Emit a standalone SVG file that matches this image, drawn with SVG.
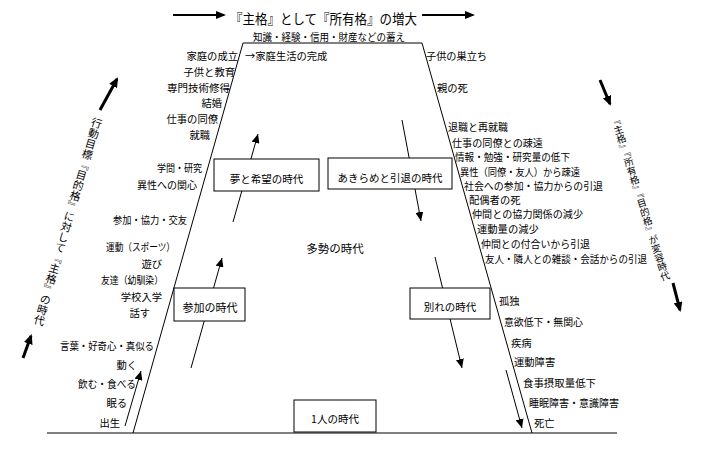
<svg xmlns="http://www.w3.org/2000/svg" width="711" height="449" viewBox="0 0 711 449">
<style>
text{font-family:"Noto Sans CJK JP","Noto Sans",sans-serif;fill:#000}
.lb{font-size:10.3px}
.l{text-anchor:end}
.bx{fill:#fff;stroke:#000;stroke-width:1}
.bt{font-size:10.5px;text-anchor:middle}
.ln{stroke:#000;stroke-width:1;fill:none}
.ar{stroke:#000;stroke-width:1;fill:none;marker-end:url(#ah)}
.ak{stroke:#000;stroke-width:3;fill:none;marker-end:url(#ahk)}
.at{stroke:#000;stroke-width:2;fill:none;marker-end:url(#aht)}
.vt{writing-mode:vertical-rl}
</style>
<defs>
<marker id="ah" markerUnits="userSpaceOnUse" markerWidth="10" markerHeight="8" refX="9" refY="4" orient="auto"><path d="M0,0 L9,4 L0,8 z" fill="#000"/></marker>
<marker id="ahk" markerUnits="userSpaceOnUse" markerWidth="10" markerHeight="9" refX="8" refY="4.5" orient="auto"><path d="M0,0 L10,4.5 L0,9 z" fill="#000"/></marker>
<marker id="aht" markerUnits="userSpaceOnUse" markerWidth="10" markerHeight="8" refX="8" refY="4" orient="auto"><path d="M0,0 L10,4 L0,8 z" fill="#000"/></marker>
</defs>
<rect width="711" height="449" fill="#fff"/>

<g id="frame">
<path class="ln" d="M133,433 L243,43 L422,43 L532,433"/>
<line x1="47" y1="433" x2="617" y2="433" stroke="#000" stroke-width="1.2"/>
</g>

<g id="connectors">
<line class="at" x1="173" y1="15" x2="224" y2="15"/>
<line class="at" x1="422" y1="15" x2="473" y2="15"/>
<line class="ak" x1="100" y1="110" x2="117" y2="79"/>
<line class="ak" x1="23" y1="358" x2="31" y2="336"/>
<line class="ak" x1="600" y1="80" x2="610" y2="104"/>
<line class="ak" x1="673" y1="283" x2="680" y2="310"/>
<line class="ar" x1="125" y1="426" x2="141" y2="371"/>
<line class="ar" x1="191" y1="368" x2="222" y2="258"/>
<line class="ar" x1="233" y1="222" x2="258" y2="134"/>
<line class="ar" x1="402" y1="120" x2="421" y2="221"/>
<line class="ar" x1="435" y1="257" x2="462" y2="368"/>
<line class="ar" x1="506" y1="370" x2="522" y2="428"/>
</g>

<g id="title">
<text x="230" y="24" textLength="187" lengthAdjust="spacingAndGlyphs" style="font-size:13.5px">『主格』として『所有格』の増大</text>
<text x="253" y="41" textLength="152" lengthAdjust="spacingAndGlyphs" style="font-size:10px">知識・経験・信用・財産などの蓄え</text>
</g>

<g id="left-vertical">
<text class="vt" x="98" y="118" transform="rotate(16.2 98 118)" style="font-size:10.8px">行動目標『目的格』に対して『主格』の時代</text>
</g>
<g id="right-vertical">
<text class="vt" x="614" y="116" transform="rotate(-17.7 614 116)" style="font-size:9.6px">『主格』『所有格』『目的格』が変容時代</text>
</g>

<g id="left-labels" class="lb">
<text class="l" x="238" y="60">家庭の成立</text>
<text x="245" y="60">→家庭生活の完成</text>
<text class="l" x="235" y="76">子供と教育</text>
<text x="167" y="92" textLength="63" lengthAdjust="spacingAndGlyphs">専門技術修得</text>
<text class="l" x="222" y="107">結婚</text>
<text class="l" x="218" y="123">仕事の同僚</text>
<text class="l" x="210" y="139">就職</text>
<text x="157" y="172" textLength="45" lengthAdjust="spacingAndGlyphs">学問・研究</text>
<text x="137" y="189" textLength="60" lengthAdjust="spacingAndGlyphs">異性への関心</text>
<text x="113" y="224" textLength="74" lengthAdjust="spacingAndGlyphs">参加・協力・交友</text>
<text x="106" y="251" textLength="69" lengthAdjust="spacingAndGlyphs">運動（スポーツ）</text>
<text class="l" x="162" y="268">遊び</text>
<text x="101" y="284" textLength="62" lengthAdjust="spacingAndGlyphs">友達（幼馴染）</text>
<text class="l" x="162" y="301">学校入学</text>
<text class="l" x="150" y="317">話す</text>
<text x="60" y="350" textLength="94" lengthAdjust="spacingAndGlyphs">言葉・好奇心・真似る</text>
<text class="l" x="137" y="369">動く</text>
<text x="78" y="388" textLength="58" lengthAdjust="spacingAndGlyphs">飲む・食べる</text>
<text class="l" x="127" y="407">眠る</text>
<text class="l" x="120" y="427">出生</text>
</g>

<g id="right-labels" class="lb">
<text x="426" y="60" textLength="61" lengthAdjust="spacingAndGlyphs">子供の巣立ち</text>
<text x="437" y="92">親の死</text>
<text x="448" y="131" textLength="60" lengthAdjust="spacingAndGlyphs">退職と再就職</text>
<text x="452" y="147" textLength="91" lengthAdjust="spacingAndGlyphs">仕事の同僚との疎遠</text>
<text x="455" y="161" textLength="115" lengthAdjust="spacingAndGlyphs">情報・勉強・研究量の低下</text>
<text x="460" y="176" textLength="120" lengthAdjust="spacingAndGlyphs">異性（同僚・友人）から疎遠</text>
<text x="464" y="190" textLength="139" lengthAdjust="spacingAndGlyphs">社会への参加・協力からの引退</text>
<text x="469" y="204">配偶者の死</text>
<text x="472" y="218" textLength="111" lengthAdjust="spacingAndGlyphs">仲間との協力関係の減少</text>
<text x="477" y="233">運動量の減少</text>
<text x="481" y="248" textLength="109" lengthAdjust="spacingAndGlyphs">仲間との付合いから引退</text>
<text x="485" y="263" textLength="162" lengthAdjust="spacingAndGlyphs">友人・隣人との雑談・会話からの引退</text>
<text x="499" y="305">孤独</text>
<text x="504" y="326" textLength="79" lengthAdjust="spacingAndGlyphs">意欲低下・無関心</text>
<text x="511" y="347">疾病</text>
<text x="514" y="366">運動障害</text>
<text x="523" y="387" textLength="73" lengthAdjust="spacingAndGlyphs">食事摂取量低下</text>
<text x="529" y="407" textLength="90" lengthAdjust="spacingAndGlyphs">睡眠障害・意識障害</text>
<text x="534" y="427">死亡</text>
</g>

<g id="node-yume">
<rect class="bx" x="214" y="159" width="105" height="32"/>
<text class="bt" x="266.5" y="183">夢と希望の時代</text>
</g>
<g id="node-akirame">
<rect class="bx" x="328" y="158" width="124" height="31"/>
<text class="bt" x="390" y="182">あきらめと引退の時代</text>
</g>
<g id="node-tasei">
<text x="335" y="253" style="font-size:11.5px;text-anchor:middle">多勢の時代</text>
</g>
<g id="node-sanka">
<rect class="bx" x="174" y="288" width="71" height="33"/>
<text class="bt" x="210" y="312" style="font-size:11px">参加の時代</text>
</g>
<g id="node-wakare">
<rect class="bx" x="410" y="288" width="80" height="31"/>
<text class="bt" x="450" y="311">別れの時代</text>
</g>
<g id="node-hitori">
<rect class="bx" x="294" y="400" width="82" height="32"/>
<text class="bt" x="335" y="423">1人の時代</text>
</g>
</svg>
